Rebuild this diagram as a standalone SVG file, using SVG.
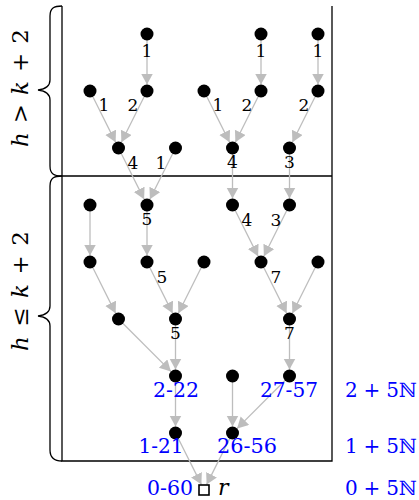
<svg xmlns="http://www.w3.org/2000/svg" width="419" height="500" viewBox="0 0 419 500">
<style>
.e{stroke:#bdbdbd;stroke-width:1.3;fill:none;marker-end:url(#ah)}
.n{fill:#000}
.lb{font-family:'DejaVu Serif',serif;font-size:17px;fill:#000;text-anchor:middle}
.bl{font-family:'DejaVu Serif',serif;font-size:20px;fill:#0000ff;text-anchor:middle}
.br{fill:none;stroke:#000;stroke-width:1.3}
.mt{font-family:'DejaVu Serif',serif;font-size:23px;fill:#000;text-anchor:middle}
</style>
<defs>
<marker id="ah" markerUnits="userSpaceOnUse" markerWidth="13" markerHeight="13" refX="11" refY="6" orient="auto">
<path d="M0,0 L11,6 L0,12 z" fill="#bdbdbd"/>
</marker>
</defs>
<g id="frame">
<path class="br" d="M62,6 V461 H332 V6 M62,176 H332"/>
<path class="br" d="M62,6 C54,6 50,8 50,16 L50,80 C50,86 46,89 38,90 C46,91 50,94 50,100 L50,166 C50,174 54,176 62,176"/>
<path class="br" d="M62,176 C54,176 50,178 50,186 L50,306 C50,312 46,315 38,316 C46,317 50,320 50,326 L50,450 C50,458 54,461 62,461"/>
<text class="mt" transform="translate(28,88) rotate(-90)" textLength="118" lengthAdjust="spacing"><tspan font-style="italic">h</tspan> &gt; <tspan font-style="italic">k</tspan> + 2</text>
<text class="mt" transform="translate(28,291) rotate(-90)" textLength="120" lengthAdjust="spacing"><tspan font-style="italic">h</tspan> ≤ <tspan font-style="italic">k</tspan> + 2</text>
</g>
<g id="connectors">
<line class="e" x1="147" y1="34" x2="147" y2="84.5"/>
<line class="e" x1="261" y1="34" x2="261" y2="84.5"/>
<line class="e" x1="318" y1="34" x2="318" y2="84.5"/>
<line class="e" x1="90" y1="91" x2="115.6" y2="142.2"/>
<line class="e" x1="147" y1="91" x2="121.4" y2="142.2"/>
<line class="e" x1="204" y1="91" x2="229.6" y2="142.2"/>
<line class="e" x1="261" y1="91" x2="235.4" y2="142.2"/>
<line class="e" x1="318" y1="91" x2="292.4" y2="142.2"/>
<line class="e" x1="118.5" y1="148" x2="144.1" y2="199.2"/>
<line class="e" x1="175.5" y1="148" x2="149.9" y2="199.2"/>
<line class="e" x1="232.5" y1="148" x2="232.5" y2="198.5"/>
<line class="e" x1="289.5" y1="148" x2="289.5" y2="198.5"/>
<line class="e" x1="90" y1="205" x2="90" y2="255.5"/>
<line class="e" x1="147" y1="205" x2="147" y2="255.5"/>
<line class="e" x1="232.5" y1="205" x2="258.1" y2="256.2"/>
<line class="e" x1="289.5" y1="205" x2="263.9" y2="256.2"/>
<line class="e" x1="90" y1="262" x2="115.6" y2="313.2"/>
<line class="e" x1="147" y1="262" x2="172.6" y2="313.2"/>
<line class="e" x1="204" y1="262" x2="178.4" y2="313.2"/>
<line class="e" x1="261" y1="262" x2="286.6" y2="313.2"/>
<line class="e" x1="318" y1="262" x2="292.4" y2="313.2"/>
<line class="e" x1="118.5" y1="319" x2="170.9" y2="371.4"/>
<line class="e" x1="175.5" y1="319" x2="175.5" y2="369.5"/>
<line class="e" x1="289.5" y1="319" x2="289.5" y2="369.5"/>
<line class="e" x1="175.5" y1="376" x2="175.5" y2="426.5"/>
<line class="e" x1="232.5" y1="376" x2="232.5" y2="426.5"/>
<line class="e" x1="289.5" y1="376" x2="237.1" y2="428.4"/>
<line class="e" x1="175.5" y1="433" x2="201.4" y2="484.6"/>
<line class="e" x1="232.5" y1="433" x2="206.6" y2="484.6"/>
</g>
<g id="edge-labels">
<text class="lb" x="147" y="57">1</text>
<text class="lb" x="261" y="57">1</text>
<text class="lb" x="318" y="57">1</text>
<text class="lb" x="104" y="111">1</text>
<text class="lb" x="133" y="111">2</text>
<text class="lb" x="218" y="111">1</text>
<text class="lb" x="247" y="111">2</text>
<text class="lb" x="304" y="111">2</text>
<text class="lb" x="133" y="169">4</text>
<text class="lb" x="161" y="169">1</text>
<text class="lb" x="232.5" y="168">4</text>
<text class="lb" x="289.5" y="168">3</text>
<text class="lb" x="147" y="225">5</text>
<text class="lb" x="247" y="226">4</text>
<text class="lb" x="276" y="226">3</text>
<text class="lb" x="162" y="283">5</text>
<text class="lb" x="276" y="283">7</text>
<text class="lb" x="175.5" y="339">5</text>
<text class="lb" x="289.5" y="339">7</text>
</g>
<g id="nodes">
<g id="n1"><circle class="n" cx="147" cy="34" r="6.5"/></g>
<g id="n2"><circle class="n" cx="261" cy="34" r="6.5"/></g>
<g id="n3"><circle class="n" cx="318" cy="34" r="6.5"/></g>
<g id="n4"><circle class="n" cx="90" cy="91" r="6.5"/></g>
<g id="n5"><circle class="n" cx="147" cy="91" r="6.5"/></g>
<g id="n6"><circle class="n" cx="204" cy="91" r="6.5"/></g>
<g id="n7"><circle class="n" cx="261" cy="91" r="6.5"/></g>
<g id="n8"><circle class="n" cx="318" cy="91" r="6.5"/></g>
<g id="n9"><circle class="n" cx="118.5" cy="148" r="6.5"/></g>
<g id="n10"><circle class="n" cx="175.5" cy="148" r="6.5"/></g>
<g id="n11"><circle class="n" cx="232.5" cy="148" r="6.5"/></g>
<g id="n12"><circle class="n" cx="289.5" cy="148" r="6.5"/></g>
<g id="n13"><circle class="n" cx="90" cy="205" r="6.5"/></g>
<g id="n14"><circle class="n" cx="147" cy="205" r="6.5"/></g>
<g id="n15"><circle class="n" cx="232.5" cy="205" r="6.5"/></g>
<g id="n16"><circle class="n" cx="289.5" cy="205" r="6.5"/></g>
<g id="n17"><circle class="n" cx="90" cy="262" r="6.5"/></g>
<g id="n18"><circle class="n" cx="147" cy="262" r="6.5"/></g>
<g id="n19"><circle class="n" cx="204" cy="262" r="6.5"/></g>
<g id="n20"><circle class="n" cx="261" cy="262" r="6.5"/></g>
<g id="n21"><circle class="n" cx="318" cy="262" r="6.5"/></g>
<g id="n22"><circle class="n" cx="118.5" cy="319" r="6.5"/></g>
<g id="n23"><circle class="n" cx="175.5" cy="319" r="6.5"/></g>
<g id="n24"><circle class="n" cx="289.5" cy="319" r="6.5"/></g>
<g id="n25"><circle class="n" cx="175.5" cy="376" r="6.5"/><text class="bl" x="176" y="397" textLength="46" lengthAdjust="spacingAndGlyphs">2-22</text></g>
<g id="n26"><circle class="n" cx="232.5" cy="376" r="6.5"/></g>
<g id="n27"><circle class="n" cx="289.5" cy="376" r="6.5"/><text class="bl" x="289" y="397" textLength="58" lengthAdjust="spacingAndGlyphs">27-57</text></g>
<g id="n28"><circle class="n" cx="175.5" cy="433" r="6.5"/><text class="bl" x="161" y="453" textLength="45" lengthAdjust="spacingAndGlyphs">1-21</text></g>
<g id="n29"><circle class="n" cx="232.5" cy="433" r="6.5"/><text class="bl" x="247" y="453" textLength="60" lengthAdjust="spacingAndGlyphs">26-56</text></g>
<g id="root"><rect x="199" y="485" width="10" height="10" fill="#fff" stroke="#000" stroke-width="1.6"/><text class="bl" x="170" y="495" textLength="46" lengthAdjust="spacingAndGlyphs">0-60</text><text x="218" y="495" font-family="'DejaVu Serif',serif" font-size="22" font-style="italic" fill="#000">r</text></g>
</g>
<g id="residues">
<text class="bl" x="381" y="397" textLength="72" lengthAdjust="spacing">2 + 5ℕ</text>
<text class="bl" x="381" y="453" textLength="72" lengthAdjust="spacing">1 + 5ℕ</text>
<text class="bl" x="381" y="495" textLength="72" lengthAdjust="spacing">0 + 5ℕ</text>
</g>
</svg>
